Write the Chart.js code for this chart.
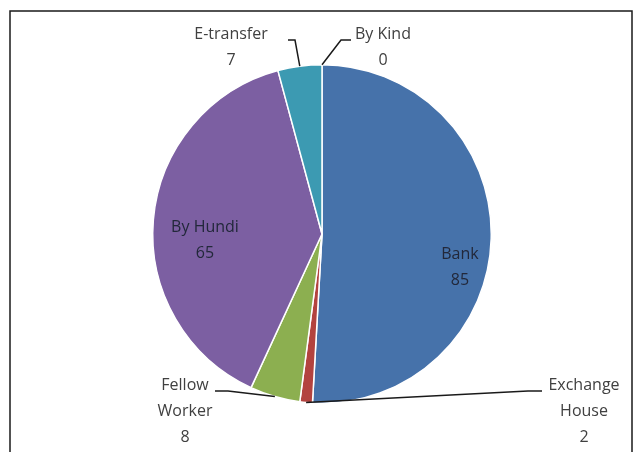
<!DOCTYPE html>
<html>
<head>
<meta charset="utf-8">
<script src="https://cdn.jsdelivr.net/npm/chart.js@4/dist/chart.umd.min.js"></script>
<style>
  html, body { margin: 0; padding: 0; background: #ffffff; }
  #wrap { position: relative; width: 635px; height: 452px; }
</style>
</head>
<body>
<div id="wrap"><canvas id="c" width="635" height="452"></canvas></div>
<script>
// Remittance channels
const categories = ['Bank', 'Exchange House', 'Fellow Worker', 'By Hundi', 'E-transfer', 'By Kind'];
const values = [85, 2, 8, 65, 7, 0];
// Label lines as shown on the chart (category name wrapped, then value)
const labelLines = [['Bank'], ['Exchange', 'House'], ['Fellow', 'Worker'], ['By Hundi'], ['E-transfer'], ['By Kind']];
const colors = ['#4672aa', '#b3433f', '#8caf50', '#7c5fa2', '#3c9ab2', '#4e80bc'];

// Label placement: centre of text block, and where the leader line leaves it
const labelPos = [
  { x: 460, y: 267, inside: true },
  { x: 584, y: 411, from: [542, 391], elbow: [528, 391] },
  { x: 185, y: 411, from: [215, 391], elbow: [228, 391] },
  { x: 205, y: 240, inside: true },
  { x: 231, y: 47, from: [288, 40], elbow: [295, 40] },
  { x: 383, y: 47, from: [351, 40], elbow: [341, 40] }
];

const FONT = '16px "Open Sans", "DejaVu Sans", sans-serif';
const LINE_H = 26;

const frame = {
  id: 'frame',
  beforeDraw(chart) {
    const ctx = chart.ctx;
    ctx.save();
    ctx.strokeStyle = '#1a1a1a';
    ctx.lineWidth = 1.5;
    ctx.beginPath();
    ctx.moveTo(10, 460);
    ctx.lineTo(10, 11);
    ctx.lineTo(632, 11);
    ctx.lineTo(632, 460);
    ctx.stroke();
    ctx.restore();
  }
};

const pieLabels = {
  id: 'pieLabels',
  afterDatasetsDraw(chart) {
    const ctx = chart.ctx;
    const meta = chart.getDatasetMeta(0);
    ctx.save();
    ctx.font = FONT;
    ctx.textAlign = 'center';
    ctx.textBaseline = 'middle';
    meta.data.forEach((arc, i) => {
      const p = labelPos[i];
      const lines = labelLines[i].concat([String(values[i])]);
      if (!p.inside) {
        const mid = (arc.startAngle + arc.endAngle) / 2;
        const ax = arc.x + Math.cos(mid) * arc.outerRadius;
        const ay = arc.y + Math.sin(mid) * arc.outerRadius;
        ctx.strokeStyle = '#1a1a1a';
        ctx.lineWidth = 1.5;
        ctx.beginPath();
        ctx.moveTo(p.from[0], p.from[1]);
        ctx.lineTo(p.elbow[0], p.elbow[1]);
        ctx.lineTo(ax, ay);
        ctx.stroke();
        ctx.fillStyle = '#404040';
      } else {
        ctx.fillStyle = '#22283a';
      }
      const top = p.y - (lines.length - 1) * LINE_H / 2;
      lines.forEach((t, k) => ctx.fillText(t, p.x, top + k * LINE_H));
    });
    ctx.restore();
  }
};

new Chart(document.getElementById('c'), {
  type: 'pie',
  data: {
    labels: categories,
    datasets: [{
      data: values,
      backgroundColor: colors,
      borderColor: '#ffffff',
      borderWidth: 1.5
    }]
  },
  options: {
    responsive: false,
    animation: false,
    rotation: 0,
    layout: { padding: { left: 152, right: 143, top: 64, bottom: 48 } },
    plugins: {
      legend: { display: false },
      tooltip: { enabled: false }
    }
  },
  plugins: [frame, pieLabels]
});
</script>
</body>
</html>
